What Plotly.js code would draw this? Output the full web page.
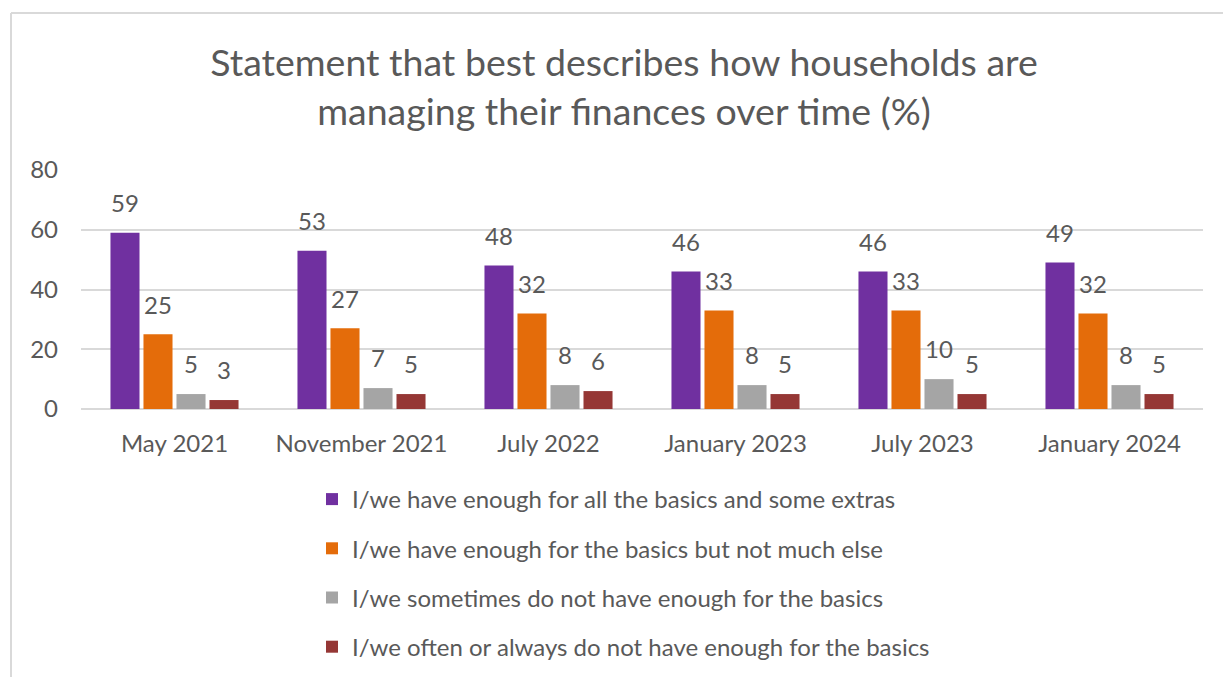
<!DOCTYPE html>
<html>
<head>
<meta charset="utf-8">
<script src="https://cdn.plot.ly/plotly-3.0.1.min.js"></script>
<style>
html,body{margin:0;padding:0;background:#fff;}
#chart{width:1223px;height:677px;}
</style>
</head>
<body>
<div id="chart"></div>
<script>
var categories = ["May 2021", "November 2021", "July 2022", "January 2023", "July 2023", "January 2024"];
var seriesNames = [
  "I/we have enough for all the basics and some extras",
  "I/we have enough for the basics but not much else",
  "I/we sometimes do not have enough for the basics",
  "I/we often or always do not have enough for the basics"
];
var extras = [59, 53, 48, 46, 46, 49];
var basicsOnly = [25, 27, 32, 33, 33, 32];
var sometimesNot = [5, 7, 8, 8, 10, 8];
var oftenNot = [3, 5, 6, 5, 5, 5];
var yTicks = [0, 20, 40, 60, 80];

var colors = ["#7030A0", "#E46C0A", "#A5A5A5", "#953735"];
var values = [extras, basicsOnly, sometimesNot, oftenNot];
var FONT = "Lato, 'Open Sans', sans-serif";
var TXT = "#595959";

var traces = values.map(function (v, i) {
  return {
    type: "bar",
    name: seriesNames[i],
    legendgroup: "g" + i,
    x: categories,
    y: v,
    marker: {color: colors[i]},
    hoverinfo: "x+y+name"
  };
});

// data labels: text scatter traces grouped like the bars (invisible markers set the gap)
values.forEach(function (v, i) {
  traces.push({
    type: "scatter",
    mode: "markers+text",
    x: categories,
    y: v,
    text: v.map(String),
    textposition: "top center",
    textfont: {family: FONT, size: 24, color: TXT},
    marker: {size: 22, color: "rgba(0,0,0,0)", line: {width: 0}},
    showlegend: false,
    cliponaxis: false,
    hoverinfo: "skip"
  });
});

var L = 81, R = 20, T = 170, B = 268;
var plotW = 1223 - L - R, plotH = 677 - T - B;
function px(x) { return (x - L) / plotW; }
function py(y) { return (677 - B - y) / plotH; }

var layout = {
  width: 1223,
  height: 677,
  paper_bgcolor: "#ffffff",
  plot_bgcolor: "#ffffff",
  margin: {l: L, r: R, t: T, b: B, pad: 0, autoexpand: false},
  font: {family: FONT, color: TXT},
  title: {
    text: "Statement that best describes how households are<br>managing their finances over time (%)",
    font: {family: FONT, size: 37.5, color: TXT},
    x: 624 / 1223,
    xanchor: "center",
    xref: "container",
    y: 1 - 76 / 677,
    yanchor: "middle",
    yref: "container"
  },
  barmode: "group",
  bargap: 0.294,
  bargroupgap: 0.12,
  scattermode: "group",
  scattergap: 0.294,
  xaxis: {
    type: "category",
    showgrid: false,
    showline: false,
    zeroline: false,
    ticks: "",
    tickfont: {family: FONT, size: 24, color: TXT},
    ticklabelstandoff: 18
  },
  yaxis: {
    range: [0, 80],
    tickvals: yTicks,
    ticktext: yTicks.map(String),
    showgrid: true,
    gridcolor: "#d9d9d9",
    gridwidth: 1.5,
    zeroline: true,
    zerolinecolor: "#d9d9d9",
    zerolinewidth: 1.5,
    showline: false,
    ticks: "",
    tickfont: {family: FONT, size: 24, color: TXT},
    ticklabelstandoff: 22
  },
  showlegend: true,
  legend: {
    orientation: "v",
    traceorder: "grouped",
    tracegroupgap: 15,
    x: px(312),
    xanchor: "left",
    y: py(477),
    yanchor: "top",
    font: {family: FONT, size: 24, color: TXT},
    bgcolor: "rgba(0,0,0,0)"
  },
  shapes: [
    {type: "line", xref: "paper", yref: "paper", x0: px(11), x1: px(1240), y0: py(13), y1: py(13), line: {color: "#d9d9d9", width: 2}},
    {type: "line", xref: "paper", yref: "paper", x0: px(11), x1: px(11), y0: py(13), y1: py(700), line: {color: "#d9d9d9", width: 2}}
  ]
};

Plotly.newPlot("chart", traces, layout, {displayModeBar: false, responsive: false});
</script>
</body>
</html>
